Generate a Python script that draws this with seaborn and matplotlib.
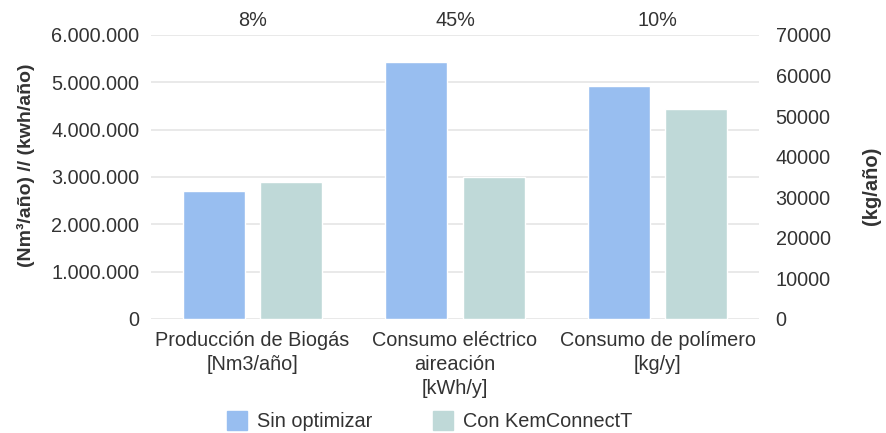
import matplotlib
matplotlib.use("Agg")
import matplotlib.pyplot as plt
import matplotlib.ticker as mticker
import matplotlib.transforms as mtransforms
import pandas as pd
import seaborn as sns

# --- data --------------------------------------------------------------------
categories = ["Producción de Biogás\n[Nm3/año]",
              "Consumo eléctrico\naireación\n[kWh/y]",
              "Consumo de polímero\n[kg/y]"]
series = ["Sin optimizar", "Con KemConnectT"]
sin_optimizar = [2700000, 5420000, 57400]
con_kemconnect = [2900000, 2990000, 51800]
on_right_axis = [False, False, True]       # polymer is in kg/año, right axis
pct_labels = ["8%", "45%", "10%"]

colors = {"Sin optimizar": "#98BEF0", "Con KemConnectT": "#BFD9D8"}
text_col = "#333333"

rows = []
for cat, a, b, right in zip(categories, sin_optimizar, con_kemconnect, on_right_axis):
    rows.append({"cat": cat, "serie": series[0], "valor": a, "right": right})
    rows.append({"cat": cat, "serie": series[1], "valor": b, "right": right})
df = pd.DataFrame(rows)

sns.set_theme(style="white")
plt.rcParams["font.family"] = ["Liberation Sans", "DejaVu Sans"]

fig = plt.figure(figsize=(8.86, 4.33), dpi=100)
ax = fig.add_axes([0.1704, 0.2633, 0.6863, 0.6559])
ax2 = ax.twinx()

common = dict(x="cat", y="valor", hue="serie", order=categories, hue_order=series,
              palette=colors, width=0.76, gap=0.195, saturation=1, legend=False)
sns.barplot(data=df[~df["right"]], ax=ax, **common)
sns.barplot(data=df[df["right"]], ax=ax2, **common)

ax.set_ylim(0, 6000000)
ax.yaxis.set_major_locator(mticker.MultipleLocator(1000000))
ax.yaxis.set_major_formatter(
    mticker.FuncFormatter(lambda v, _: f"{v:,.0f}".replace(",", ".")))
ax2.set_ylim(0, 70000)
ax2.yaxis.set_major_locator(mticker.MultipleLocator(10000))
ax.set_xlim(-0.5, 2.5)

ax.grid(axis="y", color="#E3E3E3", linewidth=1.1)
ax.set_axisbelow(True)
for a in (ax, ax2):
    for s in a.spines.values():
        s.set_visible(False)
    a.set_xlabel("")
ax.tick_params(axis="y", length=0, pad=8.5, labelsize=14.3, labelcolor=text_col)
ax2.tick_params(axis="y", length=0, pad=12, labelsize=14.3, labelcolor=text_col)
ax.tick_params(axis="x", length=0, pad=9, labelsize=14.3, labelcolor=text_col)
for t in ax.get_xticklabels():
    t.set_linespacing(1.32)

ax.set_ylabel("(Nm³/año) // (kwh/año)", fontsize=14, fontweight="bold",
              color=text_col)
ax.yaxis.set_label_coords(-0.19, 0.54)
ax2.set_ylabel("(kg/año)", fontsize=14.5, fontweight="bold", color=text_col)
ax2.yaxis.set_label_coords(1.17, 0.47)

trans = mtransforms.blended_transform_factory(ax.transData, ax.transAxes)
for i, lab in enumerate(pct_labels):
    ax.text(i, 1.05, lab, transform=trans, ha="center", va="center",
            fontsize=14.3, color=text_col)

handles = [plt.Rectangle((0, 0), 1, 1, color=colors[s]) for s in series]
fig.legend(handles, series, loc="center", bbox_to_anchor=(0.485, 0.027), ncol=2,
           frameon=False, fontsize=14.3, handlelength=1.0, handleheight=1.05,
           handletextpad=0.5, columnspacing=3.05, labelcolor=text_col)

fig.savefig("out.png", dpi=100, facecolor="white")
